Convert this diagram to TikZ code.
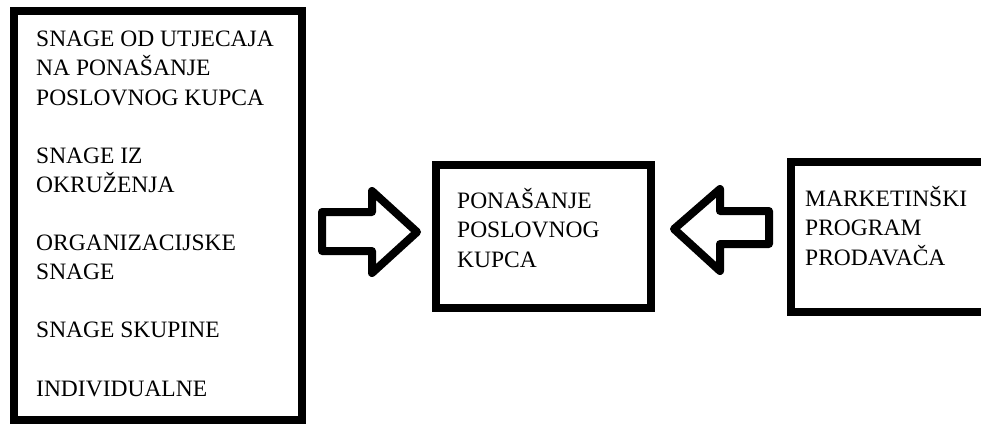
\documentclass[tikz,border=0pt]{standalone}
\usepackage{fontspec}
\setmainfont{Liberation Serif}
\tikzset{
  box/.style={draw, line width=7.5pt, minimum width=#1, inner sep=0pt},
  label/.style={anchor=base west, align=left, inner sep=0pt,
                font=\fontsize{23.5}{29.1}\selectfont},
  blockarrow/.style={draw, line width=8pt, line join=round}
}
\begin{document}
\begin{tikzpicture}[x=1pt, y=-1pt]
      \clip (0, 0) rectangle (981, 424);
      \node (forces) [box=288pt, minimum height=409pt] at (158, 215.5) {};
      \node (behaviour) [box=215pt, minimum height=143pt] at (543.5, 236.5) {};
      \node (program) [box=209pt, minimum height=150pt] at (895.5, 237) {};
      % texts sit on the baseline of their last line
      \node (forcestext) [label] at (36, 396)
            {SNAGE OD UTJECAJA\\NA PONAŠANJE\\POSLOVNOG KUPCA\\[29.1pt]
             SNAGE IZ\\OKRUŽENJA\\[29.1pt]
             ORGANIZACIJSKE\\SNAGE\\[29.1pt]
             SNAGE SKUPINE\\[29.1pt]
             INDIVIDUALNE};
      \node (behaviourtext) [label] at (457, 267)
            {PONAŠANJE\\POSLOVNOG\\KUPCA};
      \node (programtext) [label] at (805, 265)
            {MARKETINŠKI\\PROGRAM\\PRODAVAČA};
      % block arrows
      \draw [blockarrow] (322, 212) -- (372, 212) -- (372, 191) -- (417, 232)
            -- (372, 273) -- (372, 251) -- (322, 251) -- cycle;
      \draw [blockarrow] (769, 211) -- (720, 211) -- (720, 189) -- (674, 229)
            -- (720, 271) -- (720, 244) -- (769, 244) -- cycle;
\end{tikzpicture}
\end{document}
